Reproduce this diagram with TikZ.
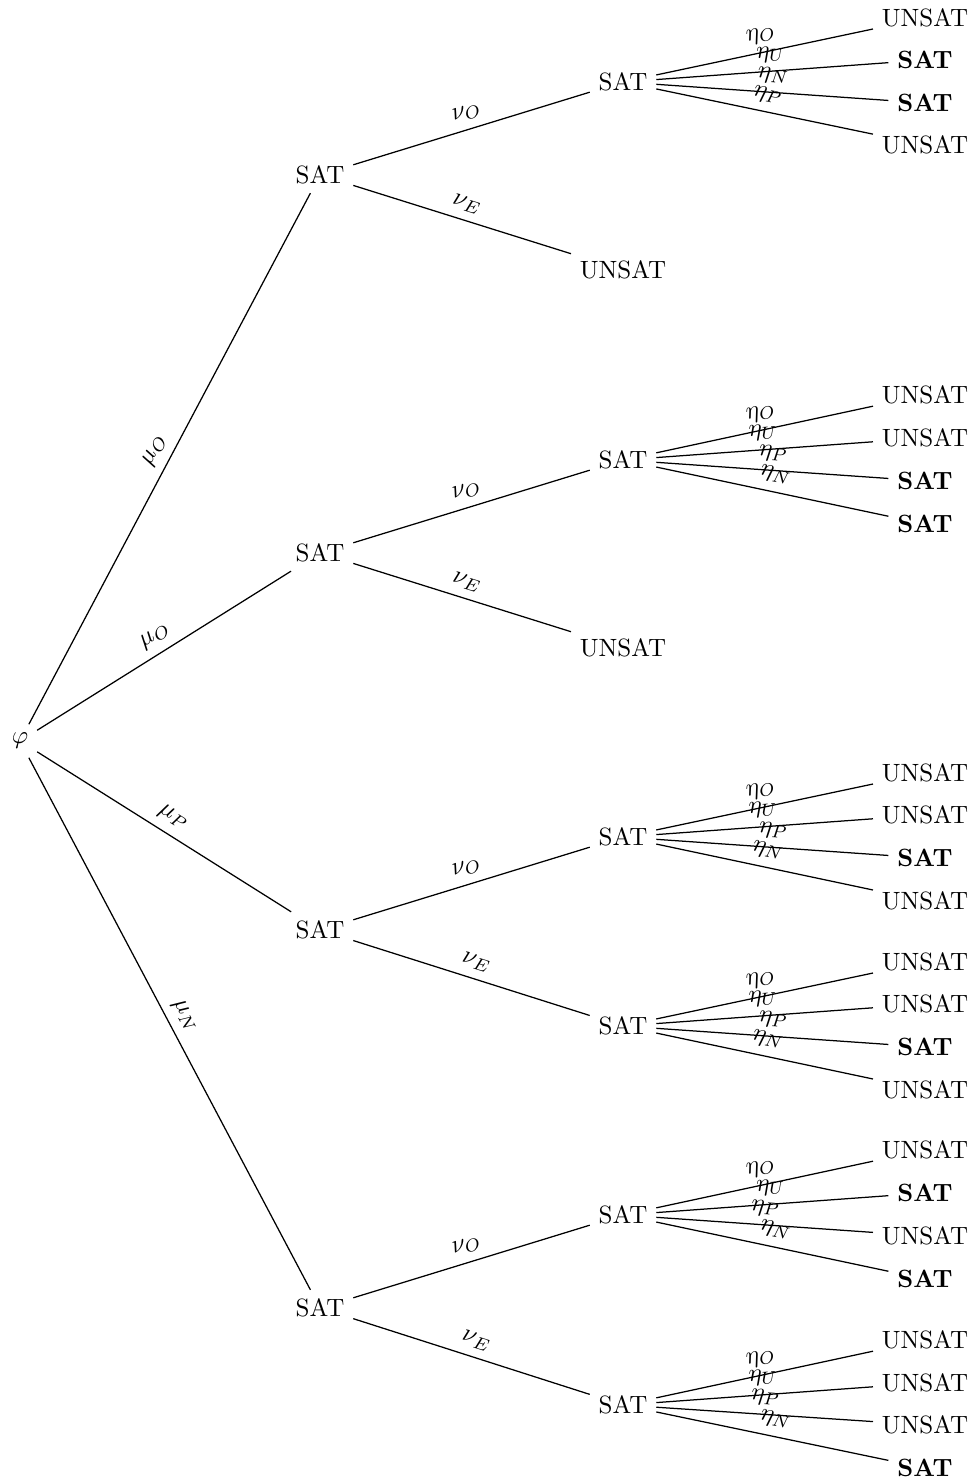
\documentclass[tikz,border=0pt]{standalone}
\usepackage{amsmath}

\tikzset{every picture/.style={line width=0.5pt}}
\tikzset{lbl/.style={above,sloped,midway}}

\begin{document}
\begin{tikzpicture}[x=0.4pt,y=-0.4pt]
%set diagram left start at 0, and has height of 1484
\useasboundingbox (0,0) rectangle (976,1484);

% Text Node
\node (phi) at (20,741) {$\varphi$};
% Text Node
\node (s1) at (320,175) {SAT};
\node (s2) at (320,553) {SAT};
\node (s3) at (320,930) {SAT};
\node (s4) at (320,1308) {SAT};
% Text Node
\node (s1o) at (623,82) {SAT};
\node (s1e) at (623,270) {UNSAT};
\node (s2o) at (623,460) {SAT};
\node (s2e) at (623,648) {UNSAT};
\node (s3o) at (623,837) {SAT};
\node (s3e) at (623,1026) {SAT};
\node (s4o) at (623,1215) {SAT};
\node (s4e) at (623,1405) {SAT};
% Text Node
\node (a1) at (925,18) {UNSAT};
\node (a2) at (925,60) {\textbf{SAT}};
\node (a3) at (925,103) {\textbf{SAT}};
\node (a4) at (925,145) {UNSAT};
% Text Node
\node (b1) at (925,395) {UNSAT};
\node (b2) at (925,438) {UNSAT};
\node (b3) at (925,481) {\textbf{SAT}};
\node (b4) at (925,524) {\textbf{SAT}};
% Text Node
\node (c1) at (925,773) {UNSAT};
\node (c2) at (925,815) {UNSAT};
\node (c3) at (925,858) {\textbf{SAT}};
\node (c4) at (925,901) {UNSAT};
% Text Node
\node (d1) at (925,962) {UNSAT};
\node (d2) at (925,1004) {UNSAT};
\node (d3) at (925,1047) {\textbf{SAT}};
\node (d4) at (925,1090) {UNSAT};
% Text Node
\node (e1) at (925,1150) {UNSAT};
\node (e2) at (925,1193) {\textbf{SAT}};
\node (e3) at (925,1236) {UNSAT};
\node (e4) at (925,1279) {\textbf{SAT}};
% Text Node
\node (f1) at (925,1340) {UNSAT};
\node (f2) at (925,1383) {UNSAT};
\node (f3) at (925,1425) {UNSAT};
\node (f4) at (925,1468) {\textbf{SAT}};

%Straight Lines
\draw (phi) -- node[lbl] {$\mu_O$} (s1);
\draw (phi) -- node[lbl] {$\mu_O$} (s2);
\draw (phi) -- node[lbl] {$\mu_P$} (s3);
\draw (phi) -- node[lbl] {$\mu_N$} (s4);
%Straight Lines
\draw (s1) -- node[lbl] {$\nu_O$} (s1o);
\draw (s1) -- node[lbl] {$\nu_E$} (s1e);
\draw (s2) -- node[lbl] {$\nu_O$} (s2o);
\draw (s2) -- node[lbl] {$\nu_E$} (s2e);
\draw (s3) -- node[lbl] {$\nu_O$} (s3o);
\draw (s3) -- node[lbl] {$\nu_E$} (s3e);
\draw (s4) -- node[lbl] {$\nu_O$} (s4o);
\draw (s4) -- node[lbl] {$\nu_E$} (s4e);
%Straight Lines
\draw (s1o) -- node[lbl] {$\eta_O$} (a1);
\draw (s1o) -- node[lbl] {$\eta_U$} (a2);
\draw (s1o) -- node[lbl] {$\eta_N$} (a3);
\draw (s1o) -- node[lbl] {$\eta_P$} (a4);
%Straight Lines
\draw (s2o) -- node[lbl] {$\eta_O$} (b1);
\draw (s2o) -- node[lbl] {$\eta_U$} (b2);
\draw (s2o) -- node[lbl] {$\eta_P$} (b3);
\draw (s2o) -- node[lbl] {$\eta_N$} (b4);
%Straight Lines
\draw (s3o) -- node[lbl] {$\eta_O$} (c1);
\draw (s3o) -- node[lbl] {$\eta_U$} (c2);
\draw (s3o) -- node[lbl] {$\eta_P$} (c3);
\draw (s3o) -- node[lbl] {$\eta_N$} (c4);
%Straight Lines
\draw (s3e) -- node[lbl] {$\eta_O$} (d1);
\draw (s3e) -- node[lbl] {$\eta_U$} (d2);
\draw (s3e) -- node[lbl] {$\eta_P$} (d3);
\draw (s3e) -- node[lbl] {$\eta_N$} (d4);
%Straight Lines
\draw (s4o) -- node[lbl] {$\eta_O$} (e1);
\draw (s4o) -- node[lbl] {$\eta_U$} (e2);
\draw (s4o) -- node[lbl] {$\eta_P$} (e3);
\draw (s4o) -- node[lbl] {$\eta_N$} (e4);
%Straight Lines
\draw (s4e) -- node[lbl] {$\eta_O$} (f1);
\draw (s4e) -- node[lbl] {$\eta_U$} (f2);
\draw (s4e) -- node[lbl] {$\eta_P$} (f3);
\draw (s4e) -- node[lbl] {$\eta_N$} (f4);

\end{tikzpicture}
\end{document}
